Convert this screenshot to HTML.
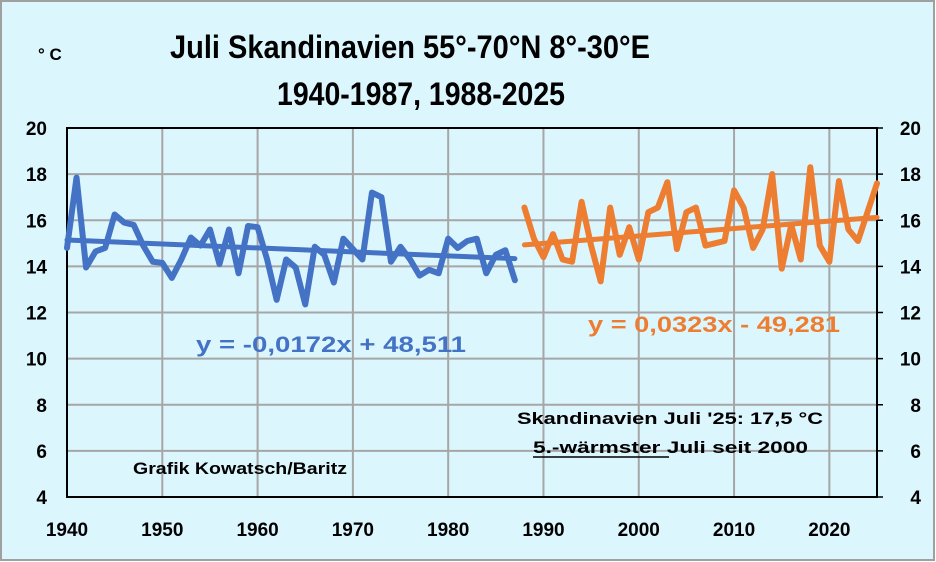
<!DOCTYPE html>
<html><head><meta charset="utf-8"><style>
html,body{margin:0;padding:0;background:#fff}
svg{display:block;font-family:"Liberation Sans",sans-serif;font-weight:bold}
</style></head><body>
<svg id="chart" width="936" height="562" viewBox="0 0 936 562" xmlns="http://www.w3.org/2000/svg">
<rect x="1" y="1" width="933" height="559" fill="#dcf6fe" stroke="#a0a0a0" stroke-width="2"/>
<text x="38" y="60" font-size="17">° C</text>
<text x="170" y="58" font-size="32" textLength="480" lengthAdjust="spacingAndGlyphs">Juli Skandinavien  55°-70°N 8°-30°E</text>
<text x="277" y="105" font-size="32" textLength="288" lengthAdjust="spacingAndGlyphs">1940-1987, 1988-2025</text>
<g id="grid"></g>
<g id="axes"></g>
<g id="series"></g>
<text x="196" y="352" font-size="22" fill="#4472c4" textLength="270" lengthAdjust="spacingAndGlyphs">y = -0,0172x + 48,511</text>
<text x="588" y="332" font-size="22" fill="#ed7d31" textLength="252" lengthAdjust="spacingAndGlyphs">y = 0,0323x - 49,281</text>
<text x="517" y="424" font-size="17" textLength="306" lengthAdjust="spacingAndGlyphs">Skandinavien  Juli '25: 17,5 °C</text>
<text x="533" y="453" font-size="17" textLength="275" lengthAdjust="spacingAndGlyphs">5.-wärmster Juli seit 2000</text>
<line x1="533" y1="457" x2="669" y2="457" stroke="#000" stroke-width="1.5"/>
<text x="133" y="474" font-size="17" textLength="214" lengthAdjust="spacingAndGlyphs">Grafik  Kowatsch/Baritz</text>
</svg>
<script>
const years1 = [1940,1941,1942,1943,1944,1945,1946,1947,1948,1949,1950,1951,1952,1953,1954,1955,1956,1957,1958,1959,1960,1961,1962,1963,1964,1965,1966,1967,1968,1969,1970,1971,1972,1973,1974,1975,1976,1977,1978,1979,1980,1981,1982,1983,1984,1985,1986,1987];
const temps1 = [14.8,17.85,13.95,14.65,14.8,16.25,15.9,15.8,14.9,14.2,14.15,13.5,14.3,15.25,14.9,15.6,14.1,15.6,13.7,15.75,15.7,14.3,12.55,14.3,13.95,12.35,14.85,14.5,13.3,15.2,14.75,14.3,17.2,17.0,14.2,14.85,14.3,13.6,13.85,13.7,15.2,14.8,15.1,15.2,13.7,14.5,14.7,13.4];
const years2 = [1988,1989,1990,1991,1992,1993,1994,1995,1996,1997,1998,1999,2000,2001,2002,2003,2004,2005,2006,2007,2008,2009,2010,2011,2012,2013,2014,2015,2016,2017,2018,2019,2020,2021,2022,2023,2024,2025];
const temps2 = [16.55,15.2,14.4,15.4,14.3,14.2,16.8,14.9,13.35,16.55,14.5,15.7,14.3,16.35,16.55,17.65,14.75,16.35,16.55,14.9,15.0,15.1,17.3,16.55,14.8,15.6,18.0,13.9,15.8,14.3,18.3,14.9,14.2,17.7,15.6,15.1,16.35,17.6];
const trend1 = [-0.0172, 48.511];
const trend2 = [0.0323, -49.281];
const yTicks = [4,6,8,10,12,14,16,18,20];
const xTicks = [1940,1950,1960,1970,1980,1990,2000,2010,2020];

const NS="http://www.w3.org/2000/svg";
const L=67,R=877,T=128,B=497;
const xS=y=>L+(y-1940)*(R-L)/85;
const yS=v=>B-(v-4)*(B-T)/16;
function mk(tag,attrs,parent){const e=document.createElementNS(NS,tag);for(const k in attrs)e.setAttribute(k,attrs[k]);parent.appendChild(e);return e;}
const grid=document.getElementById('grid'),axes=document.getElementById('axes'),series=document.getElementById('series');
yTicks.forEach(v=>{
  if(v>4&&v<20){const g=mk('line',{x1:L,x2:R,y1:yS(v),y2:yS(v),stroke:'#a6a6a6','stroke-width':2},grid);
  
  }
  const t1=mk('text',{x:L-20,y:yS(v)+7,'font-size':19,'text-anchor':'end'},axes);t1.textContent=v;
  
  
  const t2=mk('text',{x:R+44,y:yS(v)+7,'font-size':19,'text-anchor':'end'},axes);t2.textContent=v;
  
  
  const tk=mk('line',{x1:R,x2:R+6,y1:yS(v),y2:yS(v),stroke:'#000','stroke-width':1.5},axes);
  
  
});
xTicks.forEach(y=>{
  if(y>1940){const g=mk('line',{x1:xS(y),x2:xS(y),y1:T,y2:B,stroke:'#a6a6a6','stroke-width':2},grid);
  
  }
  const t=mk('text',{x:xS(y),y:536,'font-size':19,'text-anchor':'middle'},axes);t.textContent=y;
  
  
});
const frame=mk('rect',{x:L,y:T,width:R-L,height:B-T,fill:'none',stroke:'#000','stroke-width':2},axes);


function poly(xs,vs,color,name){
  const p=mk('polyline',{points:xs.map((y,i)=>xS(y)+','+yS(vs[i])).join(' '),fill:'none',stroke:color,'stroke-width':6,'stroke-linejoin':'round','stroke-linecap':'round'},series);
  
  
}
function trend(xs,tr,color,name){
  const a=xs[0],b=xs[xs.length-1];
  const l=mk('line',{x1:xS(a),y1:yS(tr[0]*a+tr[1]),x2:xS(b),y2:yS(tr[0]*b+tr[1]),stroke:color,'stroke-width':5,'stroke-linecap':'round'},series);
  
  
}
trend(years1,trend1,'#4472c4','trendline-1940-1987');
trend(years2,trend2,'#ed7d31','trendline-1988-2025');
poly(years1,temps1,'#4472c4','series-1940-1987');
poly(years2,temps2,'#ed7d31','series-1988-2025');
</script>
</body></html>
